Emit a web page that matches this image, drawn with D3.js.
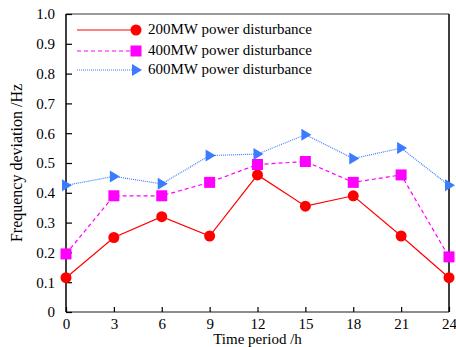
<!DOCTYPE html>
<html>
<head>
<meta charset="utf-8">
<script src="https://cdn.jsdelivr.net/npm/d3@7"></script>
<style>
  body { margin: 0; background: #fff; }
  text { font-family: "Liberation Serif", "Times New Roman", serif; }
</style>
</head>
<body>
<div id="container"></div>
<script>
// data
const hours = [0, 3, 6, 9, 12, 15, 18, 21, 24];
const mw200 = [0.115, 0.25, 0.32, 0.255, 0.46, 0.355, 0.39, 0.255, 0.115];
const mw400 = [0.195, 0.39, 0.39, 0.435, 0.495, 0.505, 0.435, 0.46, 0.185];
const mw600 = [0.425, 0.455, 0.43, 0.525, 0.53, 0.595, 0.515, 0.55, 0.425];
const yTicks = [0, 0.1, 0.2, 0.3, 0.4, 0.5, 0.6, 0.7, 0.8, 0.9, 1.0];
const seriesNames = ["200MW power disturbance", "400MW power disturbance", "600MW power disturbance"];

const width = 456;
const height = 347;
const margin = { top: 14, right: 7, bottom: 35, left: 66 };
const innerWidth = width - margin.left - margin.right;
const innerHeight = height - margin.top - margin.bottom;
const fontFamily = "'Liberation Serif', 'Times New Roman', serif";

const svg = d3.select("#container")
  .append("svg")
  .attr("width", width)
  .attr("height", height);
const g = svg.append("g")
  .attr("transform", `translate(${margin.left}, ${margin.top})`);

// scales
const scaleX = d3.scaleLinear().domain([0, 24]).range([0, innerWidth]);
const scaleY = d3.scaleLinear().domain([0, 1]).range([innerHeight, 0]);

// frame
g.append("line").attr("x1", 0).attr("x2", innerWidth).attr("y1", 0).attr("y2", 0)
  .attr("stroke", "#777").attr("stroke-width", 1.5);
g.append("line").attr("x1", 0).attr("x2", innerWidth).attr("y1", innerHeight).attr("y2", innerHeight)
  .attr("stroke", "#666").attr("stroke-width", 1.5);
g.append("line").attr("x1", 0).attr("x2", 0).attr("y1", 0).attr("y2", innerHeight)
  .attr("stroke", "#000").attr("stroke-width", 1.5);
g.append("line").attr("x1", innerWidth).attr("x2", innerWidth).attr("y1", 0).attr("y2", innerHeight)
  .attr("stroke", "#000").attr("stroke-width", 1.5);

// axes
const axisY = g.append("g")
  .attr("font-family", fontFamily)
  .call(d3.axisLeft(scaleY).tickValues(yTicks).tickSize(-6).tickPadding(11)
    .tickFormat(d => d === 0 ? "0" : d3.format(".1f")(d)));
axisY.select(".domain").remove();
axisY.selectAll(".tick line").attr("stroke", "#000").attr("stroke-width", 1.2);
axisY.selectAll(".tick text").attr("fill", "#000").style("font-size", "15px")
  .style("font-family", fontFamily);

const axisX = g.append("g")
  .attr("font-family", fontFamily)
  .attr("transform", `translate(0, ${innerHeight})`)
  .call(d3.axisBottom(scaleX).tickValues(hours).tickSize(-5).tickPadding(6));
axisX.select(".domain").remove();
axisX.selectAll(".tick line").attr("stroke", "#000").attr("stroke-width", 1.2);
axisX.selectAll(".tick text").attr("fill", "#000").style("font-size", "15px")
  .style("font-family", fontFamily);

// titles
svg.append("text")
  .attr("transform", `translate(22, ${margin.top + innerHeight / 2}) rotate(-90)`)
  .attr("text-anchor", "middle")
  .style("font-size", "16px")
  .text("Frequency deviation /Hz");
svg.append("text")
  .attr("x", margin.left + innerWidth / 2)
  .attr("y", 344)
  .attr("text-anchor", "middle")
  .style("font-size", "15px")
  .text("Time period /h");

// series
const series = [
  { values: mw200, color: "#ff0000", dash: null, width: 1.2, marker: "circle" },
  { values: mw400, color: "#ff00ff", dash: "4,3", width: 1.2, marker: "square" },
  { values: mw600, color: "#3a7bff", dash: "1,1", width: 1.2, marker: "triangle" },
];

function drawMarker(sel, type, color) {
  if (type === "circle") {
    sel.append("circle").attr("r", 5.5).attr("fill", color);
  } else if (type === "square") {
    sel.append("rect").attr("x", -5.5).attr("y", -5.5).attr("width", 11).attr("height", 11).attr("fill", color);
  } else {
    sel.append("path").attr("d", "M-4,-6L6,0L-4,6Z").attr("fill", color);
  }
}

const line = d3.line()
  .x((d, i) => scaleX(hours[i]))
  .y(d => scaleY(d));

series.forEach(s => {
  g.append("path")
    .datum(s.values)
    .attr("fill", "none")
    .attr("stroke", s.color)
    .attr("stroke-width", s.width)
    .attr("stroke-dasharray", s.dash)
    .attr("d", line);
  g.selectAll(null)
    .data(s.values)
    .join("g")
    .attr("transform", (d, i) => `translate(${scaleX(hours[i])}, ${scaleY(d)})`)
    .each(function () { drawMarker(d3.select(this), s.marker, s.color); });
});

// legend
const legendRows = [30, 51, 70];
series.forEach((s, i) => {
  const row = svg.append("g").attr("transform", `translate(77, ${legendRows[i]})`);
  row.append("line")
    .attr("x1", 0).attr("x2", 58).attr("y1", 0).attr("y2", 0)
    .attr("stroke", s.color).attr("stroke-width", s.width)
    .attr("stroke-dasharray", s.dash);
  drawMarker(row.append("g").attr("transform", "translate(59, 0)"), s.marker, s.color);
  row.append("text")
    .attr("x", 71).attr("y", 4)
    .style("font-size", "15px")
    .attr("fill", "#000")
    .text(seriesNames[i]);
});
</script>
</body>
</html>
